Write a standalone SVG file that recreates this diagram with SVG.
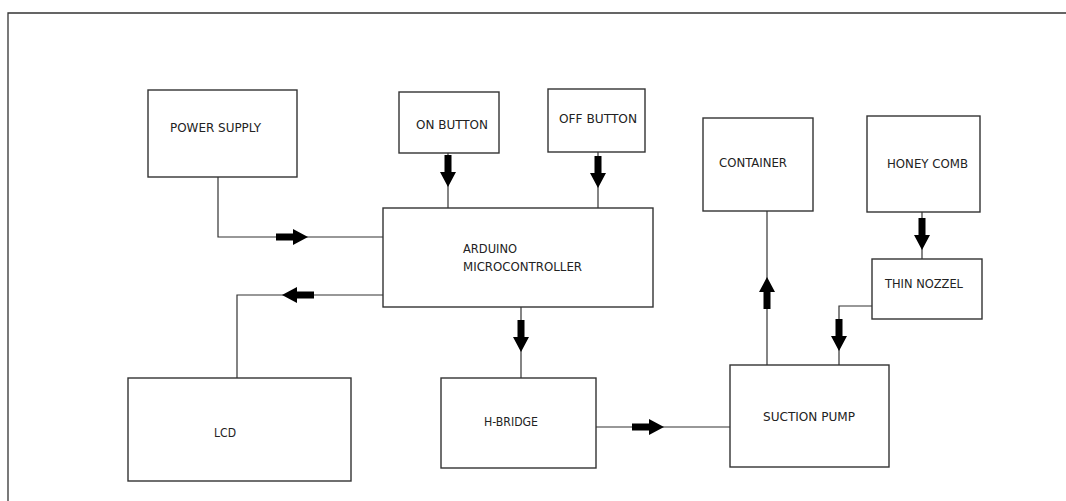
<svg xmlns="http://www.w3.org/2000/svg" width="1066" height="501" viewBox="0 0 1066 501">
<style>
.box{fill:#fff;stroke:#333;stroke-width:1.4}
.lbl{font-family:"DejaVu Sans Condensed","DejaVu Sans",Tahoma,sans-serif;font-size:12px;fill:#222}
.ln{fill:none;stroke:#333;stroke-width:1.2}
.frame{fill:none;stroke:#333;stroke-width:1.3}
</style>
<defs>
<path id="arr" d="M-32,-3.5 L-15,-3.5 L-15,-8 L0,0 L-15,8 L-15,3.5 L-32,3.5 Z" fill="#000"/>
</defs>
<rect width="1066" height="501" fill="#fff"/>
<path class="frame" d="M8,501 L8,13 L1066,13"/>
<g id="connectors">
<path class="ln" d="M218,177 L218,237 L383,237"/>
<use href="#arr" transform="translate(308,237)"/>
<path class="ln" d="M448,153 L448,208"/>
<use href="#arr" transform="translate(448,187) rotate(90)"/>
<path class="ln" d="M598,152 L598,208"/>
<use href="#arr" transform="translate(598,188) rotate(90)"/>
<path class="ln" d="M383,295 L237,295 L237,378"/>
<use href="#arr" transform="translate(282,295) rotate(180)"/>
<path class="ln" d="M521,307 L521,378"/>
<use href="#arr" transform="translate(521,352) rotate(90)"/>
<path class="ln" d="M596,427 L730,427"/>
<use href="#arr" transform="translate(664,427)"/>
<path class="ln" d="M767,365 L767,211"/>
<use href="#arr" transform="translate(767,277) rotate(-90)"/>
<path class="ln" d="M922,212 L922,259"/>
<use href="#arr" transform="translate(922,250) rotate(90)"/>
<path class="ln" d="M872,306 L839,306 L839,365"/>
<use href="#arr" transform="translate(839,351) rotate(90)"/>
</g>
<g id="power-supply">
<rect class="box" x="148" y="90" width="149" height="87"/>
<text class="lbl" x="170" y="132" textLength="91" lengthAdjust="spacingAndGlyphs">POWER SUPPLY</text>
</g>
<g id="on-button">
<rect class="box" x="399" y="92" width="100" height="61"/>
<text class="lbl" x="416" y="129" textLength="72" lengthAdjust="spacingAndGlyphs">ON BUTTON</text>
</g>
<g id="off-button">
<rect class="box" x="548" y="89" width="97" height="63"/>
<text class="lbl" x="559" y="123" textLength="78" lengthAdjust="spacingAndGlyphs">OFF BUTTON</text>
</g>
<g id="arduino">
<rect class="box" x="383" y="208" width="270" height="99"/>
<text class="lbl" x="463" y="253" textLength="54" lengthAdjust="spacingAndGlyphs">ARDUINO</text>
<text class="lbl" x="463" y="271" textLength="119" lengthAdjust="spacingAndGlyphs">MICROCONTROLLER</text>
</g>
<g id="lcd">
<rect class="box" x="128" y="378" width="223" height="103"/>
<text class="lbl" x="214" y="437" textLength="22" lengthAdjust="spacingAndGlyphs">LCD</text>
</g>
<g id="h-bridge">
<rect class="box" x="441" y="378" width="155" height="90"/>
<text class="lbl" x="484" y="426" textLength="54" lengthAdjust="spacingAndGlyphs">H-BRIDGE</text>
</g>
<g id="suction-pump">
<rect class="box" x="730" y="365" width="159" height="102"/>
<text class="lbl" x="763" y="421" textLength="92" lengthAdjust="spacingAndGlyphs">SUCTION PUMP</text>
</g>
<g id="container">
<rect class="box" x="703" y="118" width="110" height="93"/>
<text class="lbl" x="719" y="167" textLength="68" lengthAdjust="spacingAndGlyphs">CONTAINER</text>
</g>
<g id="honey-comb">
<rect class="box" x="867" y="116" width="113" height="96"/>
<text class="lbl" x="887" y="168" textLength="81" lengthAdjust="spacingAndGlyphs">HONEY COMB</text>
</g>
<g id="thin-nozzel">
<rect class="box" x="872" y="259" width="110" height="60"/>
<text class="lbl" x="885" y="288" textLength="78" lengthAdjust="spacingAndGlyphs">THIN NOZZEL</text>
</g>
</svg>
